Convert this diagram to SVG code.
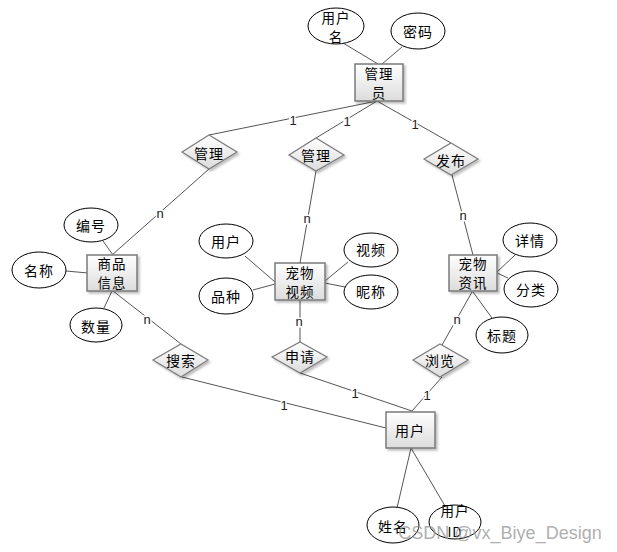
<svg xmlns="http://www.w3.org/2000/svg" width="617" height="552" viewBox="0 0 617 552">
<defs>
<linearGradient id="g" x1="0" y1="0" x2="0" y2="1"><stop offset="0" stop-color="#ffffff"/><stop offset="1" stop-color="#dcdcdc"/></linearGradient>
<filter id="sh" x="-20%" y="-20%" width="150%" height="150%"><feDropShadow dx="2" dy="2" stdDeviation="1.2" flood-color="#000" flood-opacity="0.25"/></filter>
<style>
.t{font-family:"Noto Sans CJK SC","Liberation Sans",sans-serif;font-size:14px;fill:#000;text-anchor:middle;dominant-baseline:central;letter-spacing:1px}
.s{font-size:13.5px}
.b{fill:url(#g);stroke:#7a7a7a;stroke-width:1.5;filter:url(#sh)}
.d{fill:url(#g);stroke:#7a7a7a;stroke-width:1.2;filter:url(#sh)}
.e{fill:#fff;stroke:#000;stroke-width:1}
.l{stroke:#555;stroke-width:1;fill:none}
.lb{font-family:"Liberation Sans",sans-serif;font-size:13px;fill:#222;text-anchor:middle;dominant-baseline:central;stroke:#fff;stroke-width:3;paint-order:stroke}
</style>
</defs>
<rect width="617" height="552" fill="#fff"/>
<g id="connectors">
<path class="l" d="M343,43 L378,64"/>
<path class="l" d="M402,47 L382,64"/>
<path class="l" d="M377,101 L209,135"/>
<path class="l" d="M377,101 L316,138"/>
<path class="l" d="M377,101 L451,143"/>
<path class="l" d="M209,169 L112,255"/>
<path class="l" d="M316,171 L300,263"/>
<path class="l" d="M452,175 L473,255"/>
<path class="l" d="M103,241 L113,255"/>
<path class="l" d="M66,271 L88,273"/>
<path class="l" d="M104,308 L112,291"/>
<path class="l" d="M113,291 L181,344"/>
<path class="l" d="M245,256 L275,282"/>
<path class="l" d="M253,290 L275,284"/>
<path class="l" d="M348,262 L325,281"/>
<path class="l" d="M345,287 L325,283"/>
<path class="l" d="M300,300 L300,342"/>
<path class="l" d="M515,255 L497,272"/>
<path class="l" d="M508,278 L497,273"/>
<path class="l" d="M492,318 L473,292"/>
<path class="l" d="M472,292 L442,345"/>
<path class="l" d="M182,377 L386,428"/>
<path class="l" d="M300,373 L412,411"/>
<path class="l" d="M442,377 L412,411"/>
<path class="l" d="M411,448 L397,508"/>
<path class="l" d="M411,448 L445,506"/>
<text class="lb" x="293" y="120">1</text>
<text class="lb" x="347" y="121">1</text>
<text class="lb" x="415" y="124">1</text>
<text class="lb" x="160" y="213">n</text>
<text class="lb" x="307" y="218">n</text>
<text class="lb" x="463" y="215">n</text>
<text class="lb" x="147" y="319">n</text>
<text class="lb" x="299" y="321">n</text>
<text class="lb" x="457" y="319">n</text>
<text class="lb" x="284" y="405">1</text>
<text class="lb" x="355" y="393">1</text>
<text class="lb" x="427" y="395">1</text>
</g>
<g id="admin"><rect class="b" x="355" y="64" width="48" height="37"/><text class="t s" x="379" y="73">管理</text><text class="t s" x="379" y="92">员</text></g>
<g id="attr-username"><ellipse class="e" cx="336" cy="26" rx="28" ry="18"/><text class="t s" x="336" y="17">用户</text><text class="t s" x="336" y="36">名</text></g>
<g id="attr-password"><ellipse class="e" cx="418" cy="31" rx="27" ry="18"/><text class="t" x="418" y="31">密码</text></g>
<g id="rel-manage1"><polygon class="d" points="209,135 237,152 209,169 182,152"/><text class="t" x="209" y="153">管理</text></g>
<g id="rel-manage2"><polygon class="d" points="316,138 344,155 316,171 289,155"/><text class="t" x="316" y="155">管理</text></g>
<g id="rel-publish"><polygon class="d" points="451,143 478,159 451,175 424,159"/><text class="t" x="451" y="160">发布</text></g>
<g id="goods"><rect class="b" x="87" y="255" width="50" height="36"/><text class="t s" x="112" y="263">商品</text><text class="t s" x="112" y="282">信息</text></g>
<g id="attr-id"><ellipse class="e" cx="91" cy="225" rx="27" ry="17"/><text class="t" x="91" y="225">编号</text></g>
<g id="attr-name"><ellipse class="e" cx="39" cy="270" rx="27" ry="18"/><text class="t" x="39" y="270">名称</text></g>
<g id="attr-qty"><ellipse class="e" cx="96" cy="325" rx="26" ry="17"/><text class="t" x="96" y="326">数量</text></g>
<g id="petvideo"><rect class="b" x="275" y="263" width="50" height="37"/><text class="t s" x="300" y="272">宠物</text><text class="t s" x="300" y="291">视频</text></g>
<g id="attr-user"><ellipse class="e" cx="226" cy="241" rx="27" ry="17"/><text class="t" x="226" y="241">用户</text></g>
<g id="attr-breed"><ellipse class="e" cx="226" cy="296" rx="27" ry="18"/><text class="t" x="226" y="296">品种</text></g>
<g id="attr-video"><ellipse class="e" cx="371" cy="250" rx="27" ry="17"/><text class="t" x="371" y="249">视频</text></g>
<g id="attr-nick"><ellipse class="e" cx="371" cy="292" rx="27" ry="17"/><text class="t" x="371" y="291">昵称</text></g>
<g id="petnews"><rect class="b" x="449" y="255" width="48" height="36"/><text class="t s" x="473" y="263">宠物</text><text class="t s" x="473" y="282">资讯</text></g>
<g id="attr-detail"><ellipse class="e" cx="530" cy="240" rx="27" ry="17"/><text class="t" x="530" y="240">详情</text></g>
<g id="attr-cat"><ellipse class="e" cx="531" cy="289" rx="27" ry="18"/><text class="t" x="531" y="289">分类</text></g>
<g id="attr-title"><ellipse class="e" cx="502" cy="335" rx="26" ry="18"/><text class="t" x="502" y="335">标题</text></g>
<g id="rel-search"><polygon class="d" points="181,344 208,360 181,377 153,360"/><text class="t" x="181" y="360">搜索</text></g>
<g id="rel-apply"><polygon class="d" points="300,342 327,357 300,373 272,357"/><text class="t" x="300" y="356">申请</text></g>
<g id="rel-browse"><polygon class="d" points="440,344 468,360 440,377 413,360"/><text class="t" x="440" y="360">浏览</text></g>
<g id="user"><rect class="b" x="386" y="412" width="49" height="36"/><text class="t" x="410" y="430">用户</text></g>
<g id="attr-fullname"><ellipse class="e" cx="393" cy="525" rx="26" ry="18"/><text class="t" x="393" y="526">姓名</text></g>
<g id="attr-userid"><ellipse class="e" cx="455" cy="522" rx="26" ry="17"/><text class="t s" x="455" y="510">用户</text><text class="t s" x="455" y="531">ID</text></g>
<text x="500" y="533" font-family="Liberation Sans, sans-serif" font-size="18" fill="#999" fill-opacity="0.8" text-anchor="middle" dominant-baseline="central">CSDN @vx_Biye_Design</text>
</svg>
